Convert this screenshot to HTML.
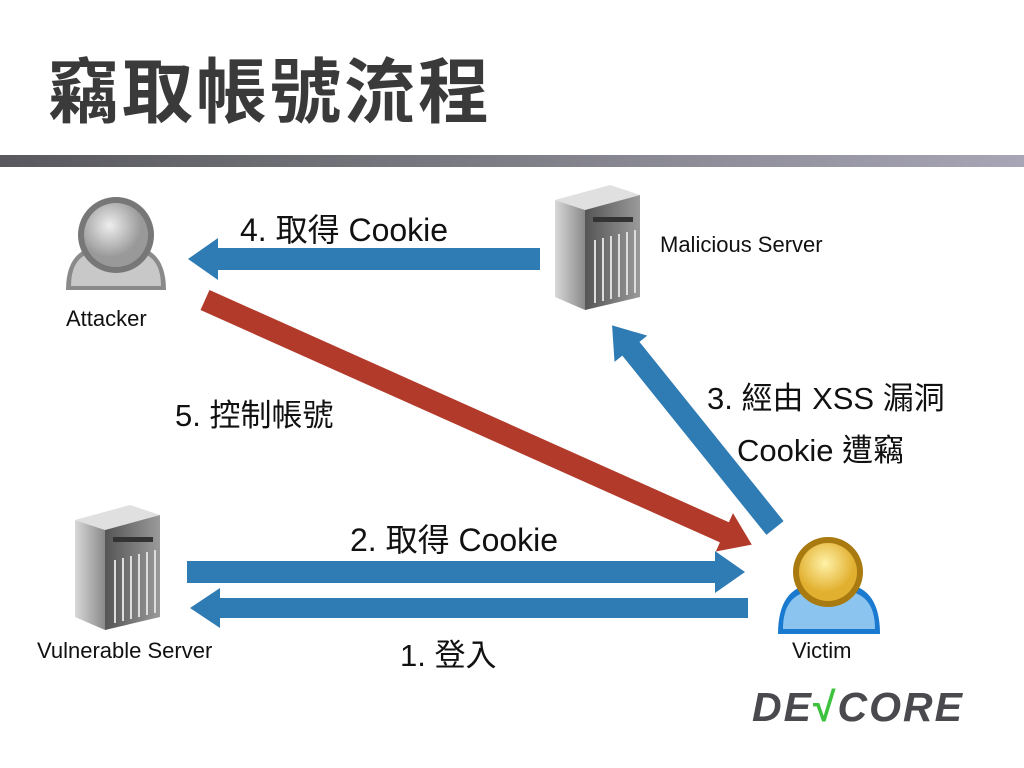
<!DOCTYPE html>
<html><head><meta charset="utf-8"><style>
body{margin:0;width:1024px;height:768px;background:#fff;overflow:hidden;position:relative;font-family:"Liberation Sans","Noto Sans CJK TC",sans-serif;}
.t{position:absolute;color:#111;white-space:nowrap;}
</style></head><body>
<div class="t" style="left:48px;top:36px;font-size:71px;font-weight:bold;color:#3a3a3a;letter-spacing:3px;">竊取帳號流程</div>
<div style="position:absolute;left:0;top:155px;width:1024px;height:12px;background:linear-gradient(90deg,#58585e,#7a7a82 45%,#a8a6b6);"></div>
<svg width="1024" height="768" style="position:absolute;left:0;top:0">
<defs>
<linearGradient id="srv" x1="0" x2="1"><stop offset="0" stop-color="#d8d8d8"/><stop offset="1" stop-color="#8a8a8a"/></linearGradient>
<linearGradient id="srvf" x1="0" x2="1"><stop offset="0" stop-color="#555"/><stop offset="1" stop-color="#9a9a9a"/></linearGradient>
<radialGradient id="gh" cx="0.4" cy="0.35"><stop offset="0" stop-color="#eee"/><stop offset="1" stop-color="#999"/></radialGradient>
<radialGradient id="yh" cx="0.45" cy="0.35"><stop offset="0" stop-color="#fff2a8"/><stop offset="1" stop-color="#e2b030"/></radialGradient>
<g id="server">
<polygon points="0,15 55,0 85,10 30,25" fill="#e0e0e0"/>
<polygon points="0,15 30,25 30,125 0,112" fill="url(#srv)"/>
<polygon points="30,25 85,10 85,112 30,125" fill="url(#srvf)"/>
<g stroke="#ddd" stroke-width="2"><line x1="40" y1="55" x2="40" y2="118"/><line x1="48" y1="53" x2="48" y2="116"/><line x1="56" y1="51" x2="56" y2="114"/><line x1="64" y1="49" x2="64" y2="112"/><line x1="72" y1="47" x2="72" y2="110"/><line x1="80" y1="45" x2="80" y2="108"/></g>
<rect x="38" y="32" width="40" height="5" fill="#333"/>
</g>
</defs>
<use href="#server" x="555" y="185"/>
<use href="#server" x="75" y="505"/>
<path d="M66,290 Q66,250 98,246 L134,246 Q166,250 166,290 Z" fill="#8a8a8a"/>
<path d="M71,286 Q71,254 98,251 L134,251 Q161,254 161,286 Z" fill="#c8c8c8"/>
<circle cx="116" cy="235" r="38" fill="#777"/>
<circle cx="116" cy="235" r="32" fill="url(#gh)"/>
<path d="M778,634 Q778,588 812,584 L846,584 Q880,588 880,634 Z" fill="#1a7ad0"/>
<path d="M783,629 Q783,594 812,591 L846,591 Q875,594 875,629 Z" fill="#8cc4f0"/>
<circle cx="828" cy="572" r="35" fill="#a87a10"/>
<circle cx="828" cy="572" r="29" fill="url(#yh)"/>
<g fill="#2f7bb4">
<polygon transform="translate(540,259) rotate(180)" points="0,-11 322,-11 322,-21 352,0 322,21 322,11 0,11"/>
<polygon transform="translate(187,572)" points="0,-11 528,-11 528,-21 558,0 528,21 528,11 0,11"/>
<polygon transform="translate(748,608) rotate(180)" points="0,-10 528,-10 528,-20 558,0 528,20 528,10 0,10"/>
<polygon transform="translate(775,528) rotate(231.2)" points="0,-11 230,-11 230,-21 260,0 230,21 230,11 0,11"/>
</g>
<polygon fill="#b23a2a" transform="translate(205,300) rotate(24.1)" points="0,-11 569,-11 569,-21 599,0 569,21 569,11 0,11"/>
</svg>
<div class="t" style="left:240px;top:205px;font-size:32px;">4. 取得 Cookie</div>
<div class="t" style="left:660px;top:232px;font-size:22px;">Malicious Server</div>
<div class="t" style="left:66px;top:306px;font-size:22px;">Attacker</div>
<div class="t" style="left:175px;top:390px;font-size:31px;">5. 控制帳號</div>
<div class="t" style="left:707px;top:373px;font-size:31px;">3. 經由 XSS 漏洞</div>
<div class="t" style="left:737px;top:425px;font-size:31px;">Cookie 遭竊</div>
<div class="t" style="left:350px;top:515px;font-size:32px;">2. 取得 Cookie</div>
<div class="t" style="left:37px;top:638px;font-size:22px;">Vulnerable Server</div>
<div class="t" style="left:400px;top:630px;font-size:31px;">1. 登入</div>
<div class="t" style="left:792px;top:638px;font-size:22px;">Victim</div>
<div class="t" style="left:752px;top:684px;font-size:41px;font-weight:bold;font-style:italic;color:#4a4a4e;letter-spacing:2px;">DE<span style="color:#3dc23d;font-style:normal;">√</span>CORE</div>
</body></html>
